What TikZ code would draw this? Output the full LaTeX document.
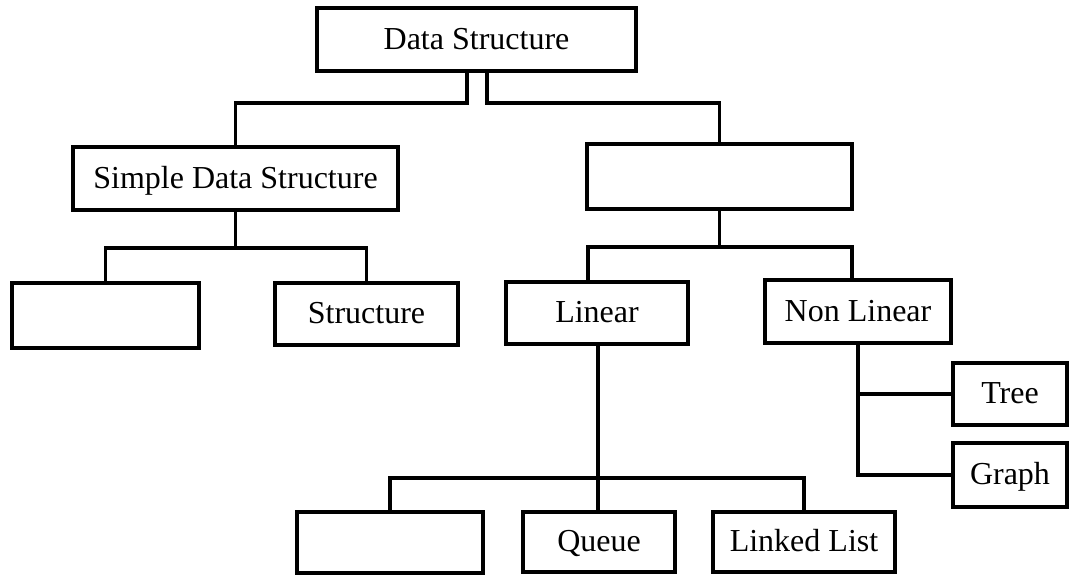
\documentclass[tikz,border=0pt]{standalone}
\usepackage{fontspec}
\setmainfont{Liberation Serif}
\begin{document}
\begin{tikzpicture}[x=1pt,y=-1pt,
  box/.style={draw, line width=3.4pt, inner sep=0pt, text height=23pt, text depth=4pt, font=\fontsize{32}{36}\selectfont},
  link/.style={line width=3.2pt, line cap=rect}]
\useasboundingbox[fill=white] (0,0) rectangle (1070,584);
\node[box, minimum width=319pt, minimum height=63pt] (ds) at (476.5,39.5) {Data Structure};
\node[box, minimum width=325pt, minimum height=63pt] (sds) at (235.5,178.5) {Simple Data Structure};
\node[box, minimum width=265pt, minimum height=65pt] (nps) at (719.5,176.5) {};
\node[box, minimum width=187pt, minimum height=65pt] (e1) at (105.5,315.5) {};
\node[box, minimum width=183pt, minimum height=62pt] (st) at (366.5,314) {Structure};
\node[box, minimum width=182pt, minimum height=62pt] (lin) at (597,313) {Linear};
\node[box, minimum width=186pt, minimum height=63pt] (nl) at (858,311.5) {Non Linear};
\node[box, minimum width=114pt, minimum height=62pt] (tree) at (1010,394) {Tree};
\node[box, minimum width=114pt, minimum height=64pt] (graph) at (1010,475) {Graph};
\node[box, minimum width=186pt, minimum height=61pt] (e2) at (390,542.5) {};
\node[box, minimum width=152pt, minimum height=60pt] (queue) at (599,542) {Queue};
\node[box, minimum width=182pt, minimum height=60pt] (ll) at (804,542) {Linked List};
% connectors
\coordinate (a1) at (467,103);
\coordinate (a2) at (487,103);
\draw[link] (ds.south -| a1) -- (a1) -| (sds.north);
\draw[link] (ds.south -| a2) -- (a2) -| (nps.north);
\coordinate (b1) at (235.5,248);
\draw[link] (sds.south) -- (b1);
\draw[link] (b1) -| (e1.north);
\draw[link] (b1) -| (st.north);
\coordinate (c1) at (719.5,247);
\coordinate (c2) at (588,247);
\coordinate (c3) at (852,247);
\draw[link] (nps.south) -- (c1);
\draw[link] (c1) -- (c2) -- (lin.north -| c2);
\draw[link] (c1) -- (c3) -- (nl.north -| c3);
\coordinate (d0) at (598,478);
\draw[link] (lin.south -| d0) -- (queue.north -| d0);
\draw[link] (d0) -| (e2.north);
\draw[link] (d0) -| (ll.north);
\draw[link] (nl.south) |- (tree.west);
\draw[link] (nl.south) |- (graph.west);
\end{tikzpicture}
\end{document}
